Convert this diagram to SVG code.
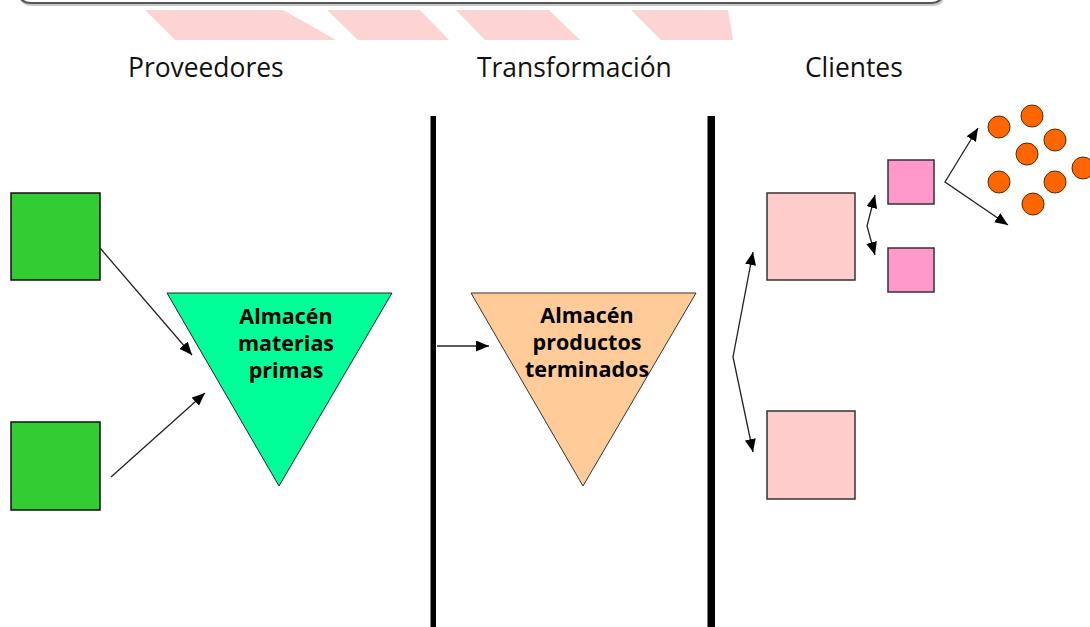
<svg xmlns="http://www.w3.org/2000/svg" width="1090" height="627" viewBox="0 0 1090 627">
<style>
.title{font-family:"Open Sans","Noto Sans",sans-serif;font-size:26.4px;fill:#111}
.lbl{font-family:"Open Sans","Noto Sans",sans-serif;font-size:21.5px;font-weight:700;fill:#000;text-anchor:middle}
.green{fill:#33CC33;stroke:#111;stroke-width:1.5}
.pink{fill:#FFCCCC;stroke:#333;stroke-width:1.5}
.pink2{fill:#FF99CC;stroke:#333;stroke-width:1.5}
.dot{fill:#FF6600;stroke:#5a2a00;stroke-width:1}
.stripe{fill:#FED3D3}
.conn{fill:none;stroke:#222;stroke-width:1.3}
.bar{fill:#000}
</style>
<defs>
<marker id="ah" markerUnits="userSpaceOnUse" markerWidth="14" markerHeight="12" refX="13" refY="5.5" orient="auto-start-reverse" viewBox="0 0 14 12">
<path d="M0,0 L13,5.5 L0,11 z" fill="#000"/>
</marker>
</defs>
<rect width="1090" height="627" fill="#fff"/>
<g id="banner">
<path d="M19,-20 L19,-9 Q19,3 31,3 L931,3 Q943,3 943,-9 L943,-20" fill="none" stroke="#c8c8c8" stroke-width="2" transform="translate(1,2)"/>
<path d="M19,-20 L19,-9 Q19,3 31,3 L931,3 Q943,3 943,-9 L943,-20" fill="none" stroke="#555" stroke-width="2"/>
<polygon class="stripe" points="145,10 283,10 336,40 175,40"/>
<polygon class="stripe" points="327,10 420,10 449,40 358,40"/>
<polygon class="stripe" points="456,10 549,10 580,40 485,40"/>
<polygon class="stripe" points="631,10 728,10 733,40 661,40"/>
</g>
<g id="titles">
<text class="title" x="128" y="77">Proveedores</text>
<text class="title" x="477" y="77">Transformación</text>
<text class="title" x="805" y="77">Clientes</text>
</g>
<g id="bars">
<rect class="bar" x="430.5" y="116" width="5.5" height="511"/>
<rect class="bar" x="707.5" y="116" width="7.5" height="511"/>
</g>
<g id="proveedor1"><rect class="green" x="11" y="193" width="89" height="87"/></g>
<g id="proveedor2"><rect class="green" x="11" y="422" width="89" height="88"/></g>
<g id="almacen-mp">
<polygon points="167,293 392,293 279,486" fill="#00FF99" stroke="#222" stroke-width="1"/>
<text class="lbl" x="286" y="324">Almacén</text>
<text class="lbl" x="286" y="351">materias</text>
<text class="lbl" x="286" y="378">primas</text>
</g>
<g id="almacen-pt">
<polygon points="471,293 696,293 583,486" fill="#FFCC99" stroke="#333" stroke-width="1"/>
<text class="lbl" x="587" y="323">Almacén</text>
<text class="lbl" x="587" y="350">productos</text>
<text class="lbl" x="587" y="377">terminados</text>
</g>
<g id="cliente1"><rect class="pink" x="767" y="193" width="88" height="87"/></g>
<g id="cliente2"><rect class="pink" x="767" y="411" width="88" height="88"/></g>
<g id="subcliente1"><rect class="pink2" x="888" y="160" width="46" height="44"/></g>
<g id="subcliente2"><rect class="pink2" x="888" y="248" width="46" height="44"/></g>
<g id="consumidores">
<circle class="dot" cx="999" cy="127" r="11"/>
<circle class="dot" cx="1032" cy="116" r="11"/>
<circle class="dot" cx="1055" cy="140" r="11"/>
<circle class="dot" cx="1027" cy="154" r="11"/>
<circle class="dot" cx="1083" cy="168" r="11"/>
<circle class="dot" cx="999" cy="182" r="11"/>
<circle class="dot" cx="1055" cy="182" r="11"/>
<circle class="dot" cx="1033" cy="204" r="11"/>
</g>
<g id="connectors">
<line class="conn" x1="100" y1="248" x2="192" y2="355" marker-end="url(#ah)"/>
<line class="conn" x1="111" y1="477" x2="205" y2="393" marker-end="url(#ah)"/>
<line class="conn" x1="437" y1="346" x2="489" y2="346" marker-end="url(#ah)"/>
<polyline class="conn" points="753,252 733,357 753,452" marker-start="url(#ah)" marker-end="url(#ah)"/>
<polyline class="conn" points="875,195 867,226 875,255" marker-start="url(#ah)" marker-end="url(#ah)"/>
<polyline class="conn" points="978,128 945,182 1008,225" marker-start="url(#ah)" marker-end="url(#ah)"/>
</g>
</svg>
